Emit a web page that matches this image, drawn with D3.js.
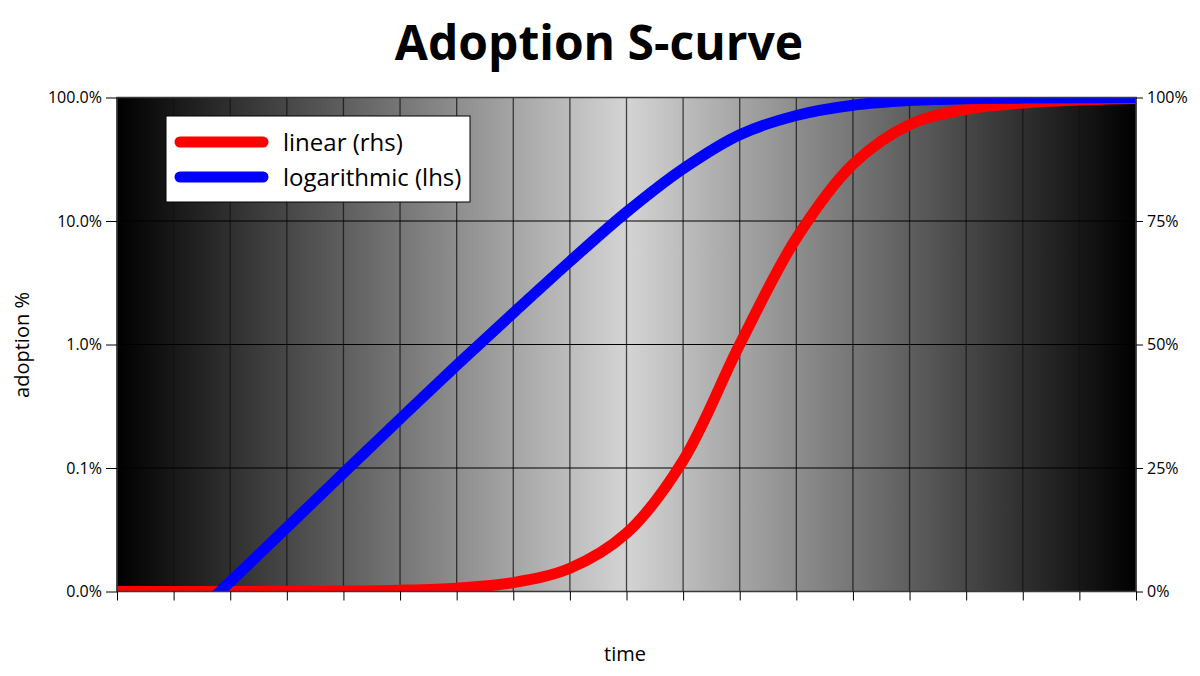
<!DOCTYPE html>
<html>
<head>
<meta charset="utf-8">
<script src="https://cdn.jsdelivr.net/npm/d3@7"></script>
<style>
  body { margin: 0; background: #fff; }
  svg { display: block; font-family: "Open Sans", sans-serif; }
</style>
</head>
<body>
<svg id="chart" width="1200" height="676"></svg>
<script>
// time steps along the x axis (no labels shown)
const time = [0, 1, 2, 3, 4, 5, 6, 7, 8, 9, 10, 11, 12, 13, 14, 15, 16, 17, 18]
// adoption share, same data drawn on both axes
const adoption = [0.0000166, 0.000045, 0.00012, 0.00033, 0.00091, 0.0025, 0.0068, 0.018, 0.047,
  0.118, 0.265, 0.50, 0.715, 0.865, 0.945, 0.976, 0.989, 0.995, 0.998]
const logTicks = [0.0001, 0.001, 0.01, 0.1, 1]
const linTicks = [0, 0.25, 0.5, 0.75, 1]
const seriesNames = ["linear (rhs)", "logarithmic (lhs)"]
const seriesColors = ["#ff0000", "#0000ff"]

const svg = d3.select("#chart")
const pLeft = 117, pRight = 1136, pTop = 97.5, pBottom = 591.5

const x = d3.scaleLinear().domain([time[0], time[time.length - 1]]).range([pLeft, pRight])
const yLog = d3.scaleLog().domain([0.0001, 1]).range([pBottom, pTop])
const yLin = d3.scaleLinear().domain([0, 1]).range([pBottom, pTop])

const defs = svg.append("defs")
const grad = defs.append("linearGradient")
  .attr("id", "bg")
  .attr("x1", "0").attr("x2", "1").attr("y1", "0").attr("y2", "0")
grad.append("stop").attr("offset", "0%").attr("stop-color", "#000")
grad.append("stop").attr("offset", "50%").attr("stop-color", "#d4d4d4")
grad.append("stop").attr("offset", "100%").attr("stop-color", "#000")

defs.append("clipPath").attr("id", "plotClip")
  .append("rect")
  .attr("x", pLeft).attr("y", pTop)
  .attr("width", pRight - pLeft).attr("height", pBottom - pTop)

// plot background
svg.append("rect")
  .attr("x", pLeft).attr("y", pTop)
  .attr("width", pRight - pLeft).attr("height", pBottom - pTop)
  .attr("fill", "url(#bg)")

// grid
svg.append("g")
  .selectAll("line")
  .data(time)
  .enter()
  .append("line")
  .attr("x1", d => x(d)).attr("x2", d => x(d))
  .attr("y1", pTop).attr("y2", pBottom)
  .attr("stroke", "#111")
  .attr("stroke-opacity", 0.75)
  .attr("stroke-width", 1.3)

svg.append("g")
  .selectAll("line")
  .data(logTicks)
  .enter()
  .append("line")
  .attr("x1", pLeft).attr("x2", pRight)
  .attr("y1", d => yLog(d)).attr("y2", d => yLog(d))
  .attr("stroke", "#000")
  .attr("stroke-width", 1)

// curves
const plot = svg.append("g").attr("clip-path", "url(#plotClip)")
const linLine = d3.line()
  .x((d, i) => x(time[i]))
  .y(d => yLin(d))
  .curve(d3.curveCatmullRom.alpha(0.5))
const logLine = d3.line()
  .x((d, i) => x(time[i]))
  .y(d => yLog(d))
  .curve(d3.curveCatmullRom.alpha(0.5))

plot.append("path")
  .datum(adoption)
  .attr("d", linLine)
  .attr("fill", "none")
  .attr("stroke", seriesColors[0])
  .attr("stroke-width", 11)

plot.append("path")
  .datum(adoption)
  .attr("d", logLine)
  .attr("fill", "none")
  .attr("stroke", seriesColors[1])
  .attr("stroke-width", 11)

// plot border
svg.append("rect")
  .attr("x", pLeft).attr("y", pTop)
  .attr("width", pRight - pLeft).attr("height", pBottom - pTop)
  .attr("fill", "none")
  .attr("stroke", "#3a3a3a")
  .attr("stroke-width", 1.5)

// axes
const leftAxis = svg.append("g")
  .attr("transform", `translate(${pLeft},0)`)
  .call(d3.axisLeft(yLog).tickValues(logTicks).tickFormat(d3.format(".1%")).tickSize(11).tickPadding(4))
const rightAxis = svg.append("g")
  .attr("transform", `translate(${pRight},0)`)
  .call(d3.axisRight(yLin).tickValues(linTicks).tickFormat(d3.format(".0%")).tickSize(7).tickPadding(4))
const bottomAxis = svg.append("g")
  .attr("transform", `translate(0,${pBottom})`)
  .call(d3.axisBottom(x).tickValues(time).tickFormat("").tickSize(9))

;[leftAxis, rightAxis, bottomAxis].forEach(g => {
  g.select(".domain").remove()
  g.selectAll(".tick line").attr("stroke", "#000")
  g.selectAll("text")
    .attr("font-family", "Open Sans, sans-serif")
    .attr("font-size", 16)
    .attr("fill", "#000")
})

// titles
svg.append("text")
  .text("Adoption S-curve")
  .attr("x", 599).attr("y", 60)
  .attr("text-anchor", "middle")
  .attr("font-size", 48)
  .attr("font-weight", "bold")

svg.append("text")
  .text("time")
  .attr("x", 625).attr("y", 661)
  .attr("text-anchor", "middle")
  .attr("font-size", 20)

svg.append("text")
  .text("adoption %")
  .attr("transform", "translate(29,345) rotate(-90)")
  .attr("text-anchor", "middle")
  .attr("font-size", 20)

// legend
const legend = svg.append("g")
legend.append("rect")
  .attr("x", 166).attr("y", 116)
  .attr("width", 304).attr("height", 86)
  .attr("fill", "#fff")
  .attr("stroke", "#000")
  .attr("stroke-width", 1)

const item = legend.selectAll("g.item")
  .data(seriesNames)
  .enter()
  .append("g")
  .attr("class", "item")
  .attr("transform", (d, i) => `translate(0,${142 + i * 35})`)
item.append("line")
  .attr("x1", 180).attr("x2", 263)
  .attr("stroke", (d, i) => seriesColors[i])
  .attr("stroke-width", 11)
  .attr("stroke-linecap", "round")
item.append("text")
  .text(d => d)
  .attr("x", 283).attr("y", 9)
  .attr("font-size", 24)
</script>
</body>
</html>
